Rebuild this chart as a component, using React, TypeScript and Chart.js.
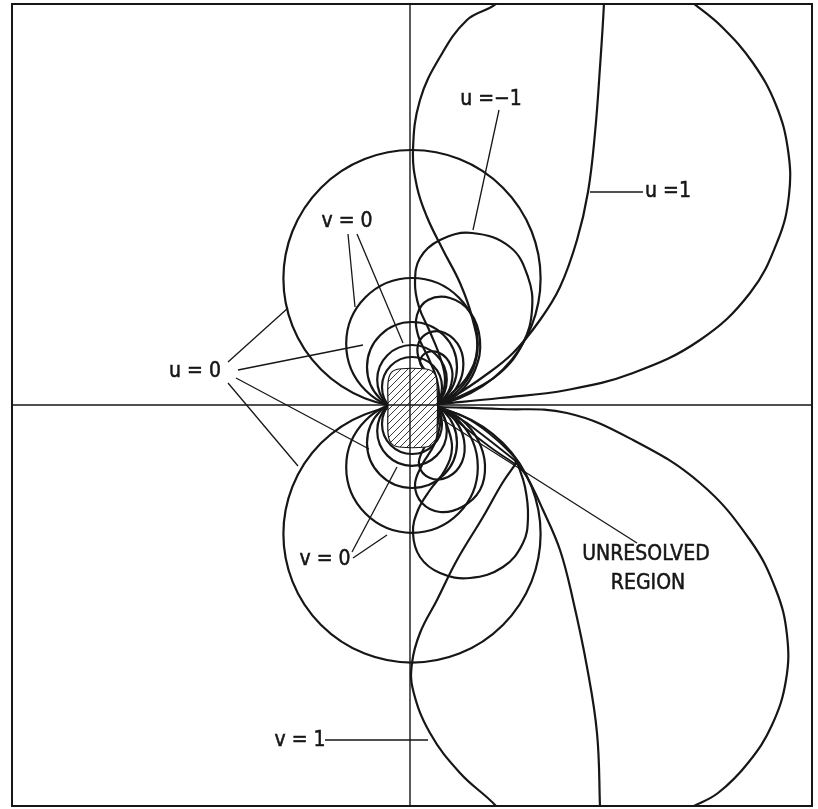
import React, { useEffect, useRef } from "react";
import { Chart, registerables } from "chart.js";

Chart.register(...registerables);

// ---- scale extents (data units) ----
const X_MIN = -3.98;
const X_MAX = 4.02;
const Y_MIN = -4.01;
const Y_MAX = 4.01;

// ---- reference axes ----
const axisHorizontal = [[-3.98, 0], [4.02, 0]];
const axisVertical = [[0, -4.01], [0, 4.01]];

// ---- u = 0 / v = 0 circles: [centerX, centerY, radius] ----
const circlesUpper = [
  [0.02, 1.264, 1.286],
  [0.02, 0.612, 0.658],
  [0.02, 0.38, 0.45],
  [0.02, 0.252, 0.348],
  [0.02, 0.18, 0.3],
];
const circlesLower = [
  [0.02, -1.29, 1.286],
  [0.02, -0.62, 0.658],
  [0.02, -0.38, 0.45],
  [0.02, -0.26, 0.348],
  [0.02, -0.19, 0.3],
];

// ---- hatched body outline ----
const bodyOutline = [
  [-0.22, 0.0], [-0.22, -0.28], [-0.19, -0.38], [-0.11, -0.42], [0.16, -0.42],
  [0.24, -0.38], [0.27, -0.28], [0.27, 0.22], [0.24, 0.32], [0.16, 0.36],
  [-0.11, 0.36], [-0.19, 0.32], [-0.22, 0.22], [-0.22, 0.0],
];

// ---- upper right family ----
const loopUpperA_right = [
  [0.3, 0.01], [0.9, 0.07], [1.57, 0.15], [2.23, 0.32], [2.9, 0.65], [3.4, 1.12],
  [3.68, 1.65], [3.79, 2.1], [3.78, 2.55], [3.66, 3.0], [3.43, 3.42], [3.12, 3.78],
  [2.83, 4.02], [2.6, 4.2],
];
const loopUpperA_left = [
  [0.95, 4.2], [0.87, 4.02], [0.57, 3.85], [0.3, 3.48], [0.1, 3.05], [0.03, 2.55],
  [0.07, 2.18], [0.17, 1.88], [0.33, 1.55], [0.5, 1.22], [0.62, 0.88], [0.67, 0.55],
  [0.57, 0.28], [0.4, 0.1], [0.3, 0.01],
];
const uOneUpper = [
  [1.94, 4.2], [1.94, 4.02], [1.9, 3.38], [1.85, 2.72], [1.78, 2.13], [1.67, 1.65],
  [1.5, 1.18], [1.3, 0.85], [1.03, 0.52], [0.73, 0.28], [0.43, 0.08], [0.3, 0.01],
];
const uMinusOneUpper = [
  [0.3, 0.01], [0.57, 0.12], [0.9, 0.32], [1.13, 0.62], [1.22, 0.95], [1.18, 1.28],
  [1.0, 1.58], [0.62, 1.72], [0.3, 1.65], [0.1, 1.47], [0.05, 1.22], [0.09, 0.98],
  [0.2, 0.73], [0.3, 0.48], [0.35, 0.25], [0.3, 0.01],
];
const loopUpperC = [
  [0.3, 0.01], [0.5, 0.13], [0.65, 0.35], [0.7, 0.65], [0.6, 0.93], [0.4, 1.07],
  [0.18, 1.05], [0.07, 0.9], [0.08, 0.7], [0.18, 0.48], [0.27, 0.25], [0.3, 0.01],
];
const loopUpperD = [
  [0.3, 0.01], [0.45, 0.15], [0.53, 0.35], [0.5, 0.57], [0.35, 0.72], [0.18, 0.72],
  [0.08, 0.6], [0.1, 0.43], [0.22, 0.25], [0.3, 0.01],
];
const loopUpperE = [
  [0.3, 0.01], [0.4, 0.17], [0.42, 0.35], [0.33, 0.5], [0.18, 0.53], [0.1, 0.43],
  [0.2, 0.27], [0.3, 0.01],
];

// ---- lower right family ----
const loopLowerA_right = [
  [0.3, -0.02], [0.9, -0.04], [1.57, -0.08], [2.23, -0.35], [2.9, -0.78], [3.4, -1.35],
  [3.66, -1.85], [3.77, -2.3], [3.76, -2.75], [3.62, -3.2], [3.38, -3.58], [3.08, -3.88],
  [2.8, -4.03], [2.6, -4.15],
];
const loopLowerA_left = [
  [0.93, -4.15], [0.87, -4.02], [0.5, -3.68], [0.2, -3.28], [0.03, -2.85], [0.02, -2.58],
  [0.1, -2.28], [0.27, -1.95], [0.47, -1.55], [0.73, -1.12], [0.93, -0.77], [1.07, -0.57],
];
const uOneLower = [
  [1.9, -4.15], [1.9, -4.02], [1.87, -3.28], [1.77, -2.62], [1.63, -1.95], [1.5, -1.45],
  [1.33, -1.05], [1.17, -0.72], [1.05, -0.56],
];
const bundle1 = [[0.3, -0.02], [0.57, -0.18], [0.83, -0.38], [1.07, -0.57]];
const bundle2 = [[0.3, -0.02], [0.6, -0.15], [0.87, -0.35], [1.07, -0.55]];
const bundle3 = [[0.3, -0.02], [0.53, -0.21], [0.8, -0.42], [1.05, -0.59]];
const uMinusOneLower = [
  [1.07, -0.57], [1.15, -0.82], [1.18, -1.12], [1.13, -1.38], [0.93, -1.62], [0.6, -1.73],
  [0.3, -1.68], [0.1, -1.52], [0.03, -1.28], [0.08, -1.05], [0.2, -0.85], [0.35, -0.65],
  [0.42, -0.43], [0.37, -0.2], [0.3, -0.02],
];
const loopLowerC = [
  [0.3, -0.02], [0.52, -0.15], [0.68, -0.35], [0.75, -0.6], [0.7, -0.85], [0.52, -1.02],
  [0.3, -1.07], [0.12, -0.98], [0.05, -0.8], [0.12, -0.6], [0.24, -0.4], [0.3, -0.2], [0.3, -0.02],
];
const loopLowerD = [
  [0.3, -0.02], [0.45, -0.15], [0.54, -0.35], [0.52, -0.57], [0.38, -0.72], [0.2, -0.73],
  [0.09, -0.6], [0.14, -0.43], [0.26, -0.25], [0.3, -0.02],
];

// ---- leader lines (from label to curve) ----
const leaderLines = [
  [[-1.82, 0.43], [-1.22, 0.97]],
  [[-1.72, 0.35], [-0.47, 0.6]],
  [[-1.74, 0.27], [-0.41, -0.44]],
  [[-1.82, 0.22], [-1.12, -0.61]],
  [[-0.62, 1.71], [-0.55, 0.98]],
  [[-0.53, 1.71], [-0.07, 0.62]],
  [[-0.58, -1.47], [-0.13, -0.62]],
  [[-0.57, -1.53], [-0.23, -1.3]],
  [[0.89, 2.95], [0.63, 1.75]],
  [[1.8, 2.13], [2.33, 2.13]],
  [[2.27, -1.38], [0.33, -0.15]],
  [[-0.85, -3.35], [0.18, -3.35]],
];

// ---- labels ----
const labelTexts = ["u = 0", "v = 0", "v = 0", "u =\u22121", "u =1", "UNRESOLVED", "REGION", "v = 1"];
const labelX = [-2.15, -0.63, -0.85, 0.81, 2.58, 2.36, 2.38, -1.1];
const labelY = [0.33, 1.83, -1.55, 3.05, 2.13, -1.5, -1.79, -3.36];

const INK = "#161616";
const toXY = (pts: number[][]) => pts.map(([x, y]) => ({ x, y }));

function makeHatch(): CanvasPattern | string {
  const c = document.createElement("canvas");
  c.width = 7;
  c.height = 7;
  const g = c.getContext("2d");
  if (!g) return "#fff";
  g.fillStyle = "#fff";
  g.fillRect(0, 0, 7, 7);
  g.strokeStyle = "#3a3a3a";
  g.lineWidth = 1;
  g.beginPath();
  g.moveTo(0, 7);
  g.lineTo(7, 0);
  g.moveTo(-1, 1);
  g.lineTo(1, -1);
  g.moveTo(6, 8);
  g.lineTo(8, 6);
  g.stroke();
  return g.createPattern(c, "repeat") || "#fff";
}

// circles (u = 0 / v = 0 family) drawn through the chart's scales, under the datasets
const circlePlugin = {
  id: "circles",
  beforeDatasetsDraw(chart: any) {
    const { ctx, chartArea } = chart;
    const xs = chart.scales.x;
    const ys = chart.scales.y;
    ctx.save();
    ctx.beginPath();
    ctx.rect(chartArea.left, chartArea.top, chartArea.right - chartArea.left, chartArea.bottom - chartArea.top);
    ctx.clip();
    ctx.strokeStyle = INK;
    ctx.lineWidth = 2.2;
    [...circlesUpper, ...circlesLower].forEach(([cx, cy, r]) => {
      const px = xs.getPixelForValue(cx);
      const py = ys.getPixelForValue(cy);
      const pr = Math.abs(xs.getPixelForValue(cx + r) - px);
      ctx.beginPath();
      ctx.arc(px, py, pr, 0, Math.PI * 2);
      ctx.stroke();
    });
    ctx.restore();
  },
};

const framePlugin = {
  id: "frame",
  afterDraw(chart: any) {
    const { ctx, chartArea } = chart;
    ctx.save();
    ctx.strokeStyle = INK;
    ctx.lineWidth = 2;
    ctx.strokeRect(chartArea.left, chartArea.top, chartArea.right - chartArea.left, chartArea.bottom - chartArea.top);
    ctx.restore();
  },
};

const labelPlugin = {
  id: "labels",
  afterDraw(chart: any) {
    const { ctx } = chart;
    const xs = chart.scales.x;
    const ys = chart.scales.y;
    ctx.save();
    ctx.fillStyle = INK;
    ctx.strokeStyle = INK;
    ctx.lineWidth = 0.5;
    ctx.font = '21px "Liberation Sans Narrow", "DejaVu Sans Condensed", "Liberation Sans", Arial, sans-serif';
    ctx.textAlign = "center";
    ctx.textBaseline = "middle";
    labelTexts.forEach((t, i) => {
      const px = xs.getPixelForValue(labelX[i]);
      const py = ys.getPixelForValue(labelY[i]);
      ctx.fillText(t, px, py);
      ctx.strokeText(t, px, py);
    });
    ctx.restore();
  },
};

export default function App() {
  const ref = useRef<HTMLCanvasElement>(null);

  useEffect(() => {
    const canvas = ref.current;
    if (!canvas) return;
    const hatch = makeHatch();

    const curve = (pts: number[][], w = 2.2, order = 1) => ({
      type: "line",
      data: toXY(pts),
      borderColor: INK,
      borderWidth: w,
      tension: 0.4,
      pointRadius: 0,
      fill: false,
      order,
    });
    const straight = (pts: number[][], w = 1.3, order = 1) => ({ ...curve(pts, w, order), tension: 0 });

    const datasets: any[] = [
      straight(axisHorizontal, 1.4, -1),
      straight(axisVertical, 1.4, -1),
      {
        type: "line",
        data: toXY(bodyOutline),
        borderColor: INK,
        borderWidth: 1.2,
        tension: 0.3,
        pointRadius: 0,
        fill: "shape",
        backgroundColor: hatch,
        order: 0,
      },
      curve(loopUpperA_right),
      curve(loopUpperA_left),
      curve(uOneUpper),
      curve(uMinusOneUpper),
      curve(loopUpperC),
      curve(loopUpperD),
      curve(loopUpperE),
      curve(loopLowerA_right),
      curve(loopLowerA_left),
      curve(uOneLower),
      straight(bundle1, 2),
      curve(bundle2, 1.8),
      curve(bundle3, 1.8),
      curve(uMinusOneLower),
      curve(loopLowerC),
      curve(loopLowerD),
      ...leaderLines.map((l) => straight(l, 1.3)),
    ];

    const chart = new Chart(canvas, {
      type: "line",
      data: { datasets },
      options: {
        responsive: false,
        animation: false,
        devicePixelRatio: 1,
        events: [],
        layout: { padding: { left: 12, right: 6, top: 4, bottom: 3 } },
        scales: {
          x: { type: "linear", min: X_MIN, max: X_MAX, display: false },
          y: { type: "linear", min: Y_MIN, max: Y_MAX, display: false },
        },
        plugins: { legend: { display: false }, tooltip: { enabled: false } },
        elements: { line: { capBezierPoints: false } },
      },
      plugins: [circlePlugin, framePlugin, labelPlugin],
    } as any);

    return () => chart.destroy();
  }, []);

  return (
    <div style={{ position: "absolute", left: 0, top: 0, width: 818, height: 809, background: "#fff" }}>
      <canvas ref={ref} width={818} height={809} style={{ display: "block" }} />
    </div>
  );
}
